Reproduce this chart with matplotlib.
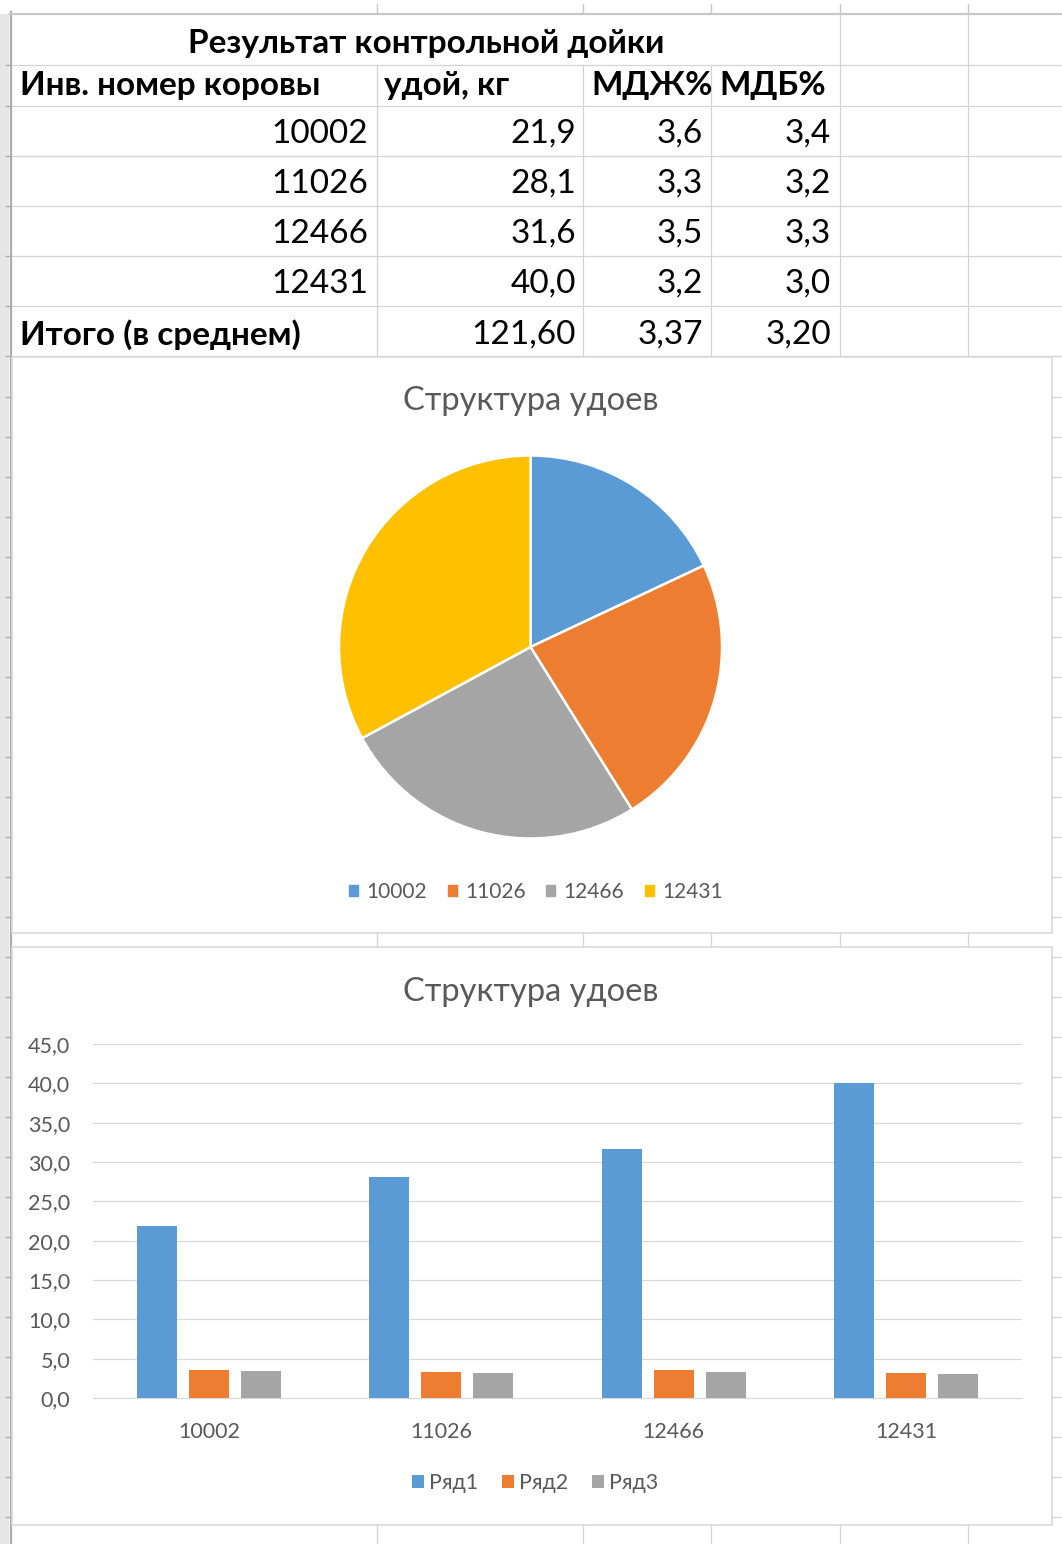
import numpy as np
import matplotlib
matplotlib.use('Agg')
import matplotlib.pyplot as plt
from matplotlib.patches import Rectangle, Patch
from matplotlib.ticker import FuncFormatter

plt.rcParams['font.family'] = ['Lato', 'DejaVu Sans']

# data
cows = ['10002', '11026', '12466', '12431']
milk = [21.9, 28.1, 31.6, 40.0]
fat = [3.6, 3.3, 3.5, 3.2]
protein = [3.4, 3.2, 3.3, 3.0]

table_title = 'Результат контрольной дойки'
headers = ['Инв. номер коровы', 'удой, кг', 'МДЖ%', 'МДБ%']
total_label = 'Итого (в среднем)'
chart_title = 'Структура удоев'
series_names = ['Ряд1', 'Ряд2', 'Ряд3']
colors = ['#5B9BD5', '#ED7D31', '#A5A5A5', '#FFC000']

# totals as in the sheet: sum of yield, yield-weighted means
total_milk = sum(milk)
avg_fat = sum(m * f for m, f in zip(milk, fat)) / total_milk
avg_protein = sum(m * p for m, p in zip(milk, protein)) / total_milk


def comma(v, d=1):
    return f'{v:.{d}f}'.replace('.', ',')


W, H = 1062, 1544
fig = plt.figure(figsize=(W / 100, H / 100), dpi=100)

# background "sheet" in pixel coordinates
bg = fig.add_axes([0, 0, 1, 1])
bg.set_xlim(0, W)
bg.set_ylim(H, 0)
bg.axis('off')

grid = '#D4D4D4'
hdr = '#ABABAB'
col_x = [377, 583, 711, 840, 968]
row_y = [65, 106, 156, 206, 256, 306, 356] + list(range(397, H, 40))

# row header strip on the left, column header strip on top
bg.add_patch(Rectangle((0, 14), 9, H, color='#E6E6E6', lw=0, zorder=1))
bg.plot([10.5, 10.5], [12, H], color=hdr, lw=1.6, zorder=2)
bg.plot([10, W], [13.5, 13.5], color='#C8C8C8', lw=1.6, zorder=2)
for x in col_x:
    bg.plot([x, x], [4, 13], color='#C8C8C8', lw=1, zorder=2)
for y in row_y:
    bg.plot([6, 10], [y, y], color=hdr, lw=1, zorder=2)
    bg.plot([11, W], [y, y], color=grid, lw=0.9, zorder=1)
for x in col_x:
    top = 65 if x < 840 else 14
    bg.plot([x, x], [top, H], color=grid, lw=0.9, zorder=1)

# table text
fs = 24
bg.text(426, 44, table_title, ha='center', va='center', fontsize=fs,
        fontweight='bold', zorder=3)
hx = [20, 384, 591, 719]
for x, h in zip(hx, headers):
    bg.text(x, 86, h, ha='left', va='center', fontsize=fs, fontweight='bold', zorder=3)

rx = [368, 576, 703, 831]
for i in range(len(cows)):
    y = 134 + 50 * i
    vals = [cows[i], comma(milk[i]), comma(fat[i]), comma(protein[i])]
    for x, v in zip(rx, vals):
        bg.text(x, y, v, ha='right', va='center', fontsize=fs, zorder=3)
bg.text(20, 335, total_label, ha='left', va='center', fontsize=fs,
        fontweight='bold', zorder=3)
for x, v in zip(rx[1:], [comma(total_milk, 2), comma(avg_fat, 2), comma(avg_protein, 2)]):
    bg.text(x, 335, v, ha='right', va='center', fontsize=fs, zorder=3)

# chart areas
for (y0, h) in [(357, 576), (947, 578)]:
    bg.add_patch(Rectangle((12, y0), 1040, h, facecolor='white',
                           edgecolor='#D9D9D9', lw=1.2, zorder=5))

txt = '#595959'
bg.text(531, 401, chart_title, ha='center', va='center', fontsize=23.5, color=txt, zorder=6)
bg.text(531, 992, chart_title, ha='center', va='center', fontsize=23.5, color=txt, zorder=6)

# pie chart
cx, cy, r = 530.5, 647, 191.5
rr = r * 1.01
ax1 = fig.add_axes([(cx - rr) / W, 1 - (cy + rr) / H, 2 * rr / W, 2 * rr / H])
ax1.pie(milk, colors=colors, startangle=90, counterclock=False,
        wedgeprops=dict(edgecolor='white', linewidth=1.8))
ax1.set_xlim(-1.01, 1.01)
ax1.set_ylim(-1.01, 1.01)
ax1.set_aspect('auto')
ax1.axis('off')

fig.legend(handles=[Patch(color=c, label=n) for c, n in zip(colors, cows)],
           loc='center', bbox_to_anchor=(536 / W, 1 - 892 / H), ncol=4,
           frameon=False, fontsize=15, handlelength=0.42, handleheight=0.42,
           handletextpad=0.4, columnspacing=1.0, labelcolor=txt)

# bar chart
ax2 = fig.add_axes([93 / W, 1 - 1398 / H, 929 / W, 354 / H])
x = np.arange(len(cows))
off = 0.224
bw = 0.172
for k, (vals, name) in enumerate(zip([milk, fat, protein], series_names)):
    ax2.bar(x + (k - 1) * off, vals, bw, color=colors[k], label=name, zorder=3)
ax2.set_xlim(-0.5, 3.5)
ax2.set_ylim(0, 45)
ax2.set_yticks(np.arange(0, 46, 5))
ax2.yaxis.set_major_formatter(FuncFormatter(lambda v, p: comma(v)))
ax2.set_xticks(x)
ax2.set_xticklabels(cows)
ax2.grid(axis='y', color='#D9D9D9', lw=0.9, zorder=0)
for s in ['top', 'right', 'left']:
    ax2.spines[s].set_visible(False)
ax2.spines['bottom'].set_color('#D9D9D9')
ax2.tick_params(axis='both', length=0, labelcolor=txt, labelsize=15.5)
ax2.tick_params(axis='y', pad=16.5)
ax2.tick_params(axis='x', pad=17)
ax2.set_facecolor('none')

handles, labels = ax2.get_legend_handles_labels()
fig.legend(handles, labels, loc='center', bbox_to_anchor=(535 / W, 1 - 1483 / H),
           ncol=3, frameon=False, fontsize=15.5, handlelength=0.55, handleheight=0.55,
           handletextpad=0.25, columnspacing=1.1, labelcolor=txt)

fig.savefig('out.png', dpi=100)
